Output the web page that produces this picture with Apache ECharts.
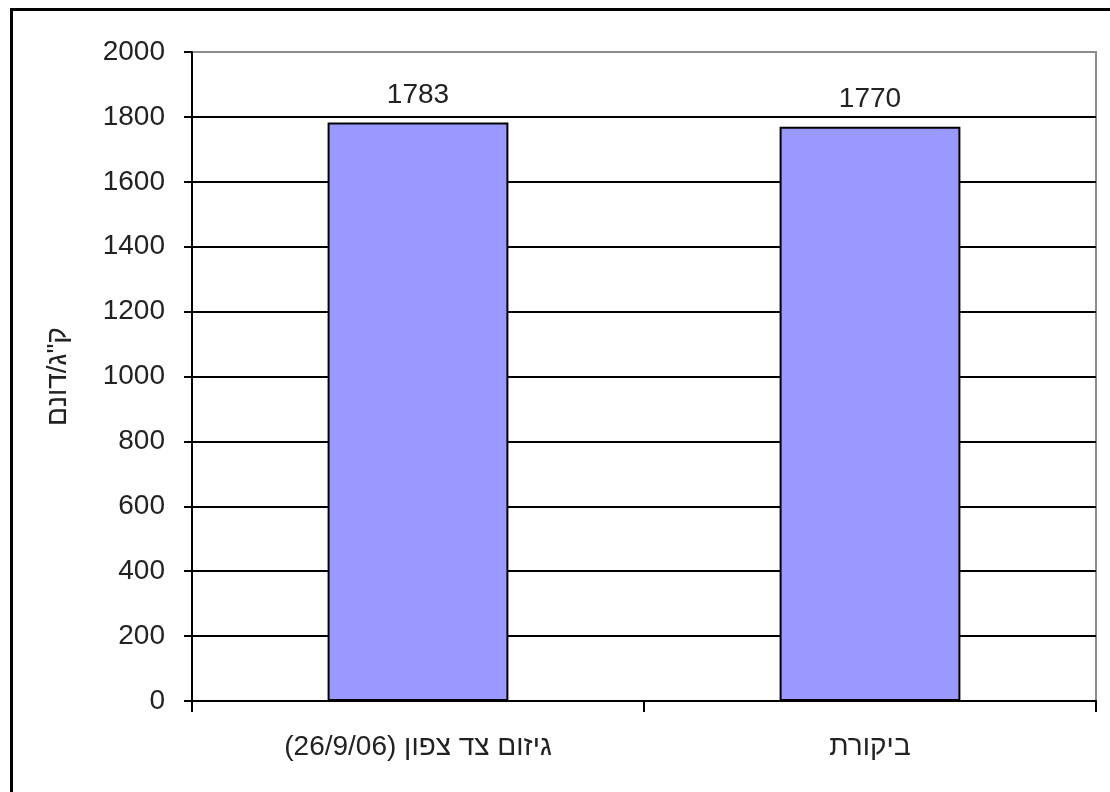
<!DOCTYPE html>
<html dir="rtl">
<head>
<meta charset="utf-8">
<script src="https://cdn.jsdelivr.net/npm/echarts@6/dist/echarts.min.js"></script>
<style>
  html, body { margin: 0; padding: 0; background: #fff; }
  #chart { position: absolute; left: 0; top: 0; width: 1110px; height: 792px; }
  /* frame drawn round the chart area on its left and top sides */
  #frame {
    position: absolute; left: 10px; top: 8px; width: 1100px; height: 784px;
    border-left: 3px solid #000; border-top: 3px solid #000;
    box-sizing: border-box; pointer-events: none;
  }
</style>
</head>
<body>
<div id="chart"></div>
<div id="frame"></div>
<script>
// Yield per dunam for each treatment
const categories = ['גיזום צד צפון (26/9/06)', 'ביקורת'];
const yieldValues = [1783, 1770];
const yAxisName = 'ק"ג/דונם';
const yMin = 0, yMax = 2000, yStep = 200;

const font = '"Liberation Sans", Arial, sans-serif';
const fontSize = 28;
const textColor = '#222';
const chart = echarts.init(document.getElementById('chart'), null, { renderer: 'canvas' });

chart.setOption({
  backgroundColor: '#ffffff',
  animation: false,
  grid: {
    left: 192, right: 14, top: 52, bottom: 91,
    show: true, borderColor: '#8c8c8c', borderWidth: 2, backgroundColor: 'transparent'
  },
  xAxis: {
    type: 'category',
    data: categories,
    axisLine: { lineStyle: { color: '#000', width: 2 } },
    axisTick: { show: true, length: 11, lineStyle: { color: '#000', width: 2 } },
    axisLabel: { margin: 32, fontSize: fontSize, fontFamily: font, color: textColor },
    splitLine: { show: false }
  },
  yAxis: {
    type: 'value',
    min: yMin, max: yMax, interval: yStep,
    name: yAxisName,
    nameLocation: 'middle',
    nameRotate: 90,
    nameGap: 120,
    nameTextStyle: { fontSize: fontSize, fontFamily: font, color: textColor },
    axisLine: { show: true, lineStyle: { color: '#000', width: 2 } },
    axisTick: { show: true, length: 8, lineStyle: { color: '#000', width: 2 } },
    axisLabel: {
      margin: 27, fontSize: fontSize, fontFamily: font, color: textColor,
      formatter: v => String(v)
    },
    splitLine: { show: true, showMaxLine: false, lineStyle: { color: '#000', width: 2 } }
  },
  series: [{
    type: 'bar',
    data: yieldValues,
    barWidth: '40%',
    itemStyle: { color: '#9999ff', borderColor: '#000', borderWidth: 2 },
    label: {
      show: true, position: 'top', distance: 13,
      fontSize: fontSize, fontFamily: font, color: textColor
    }
  }]
});
</script>
</body>
</html>
